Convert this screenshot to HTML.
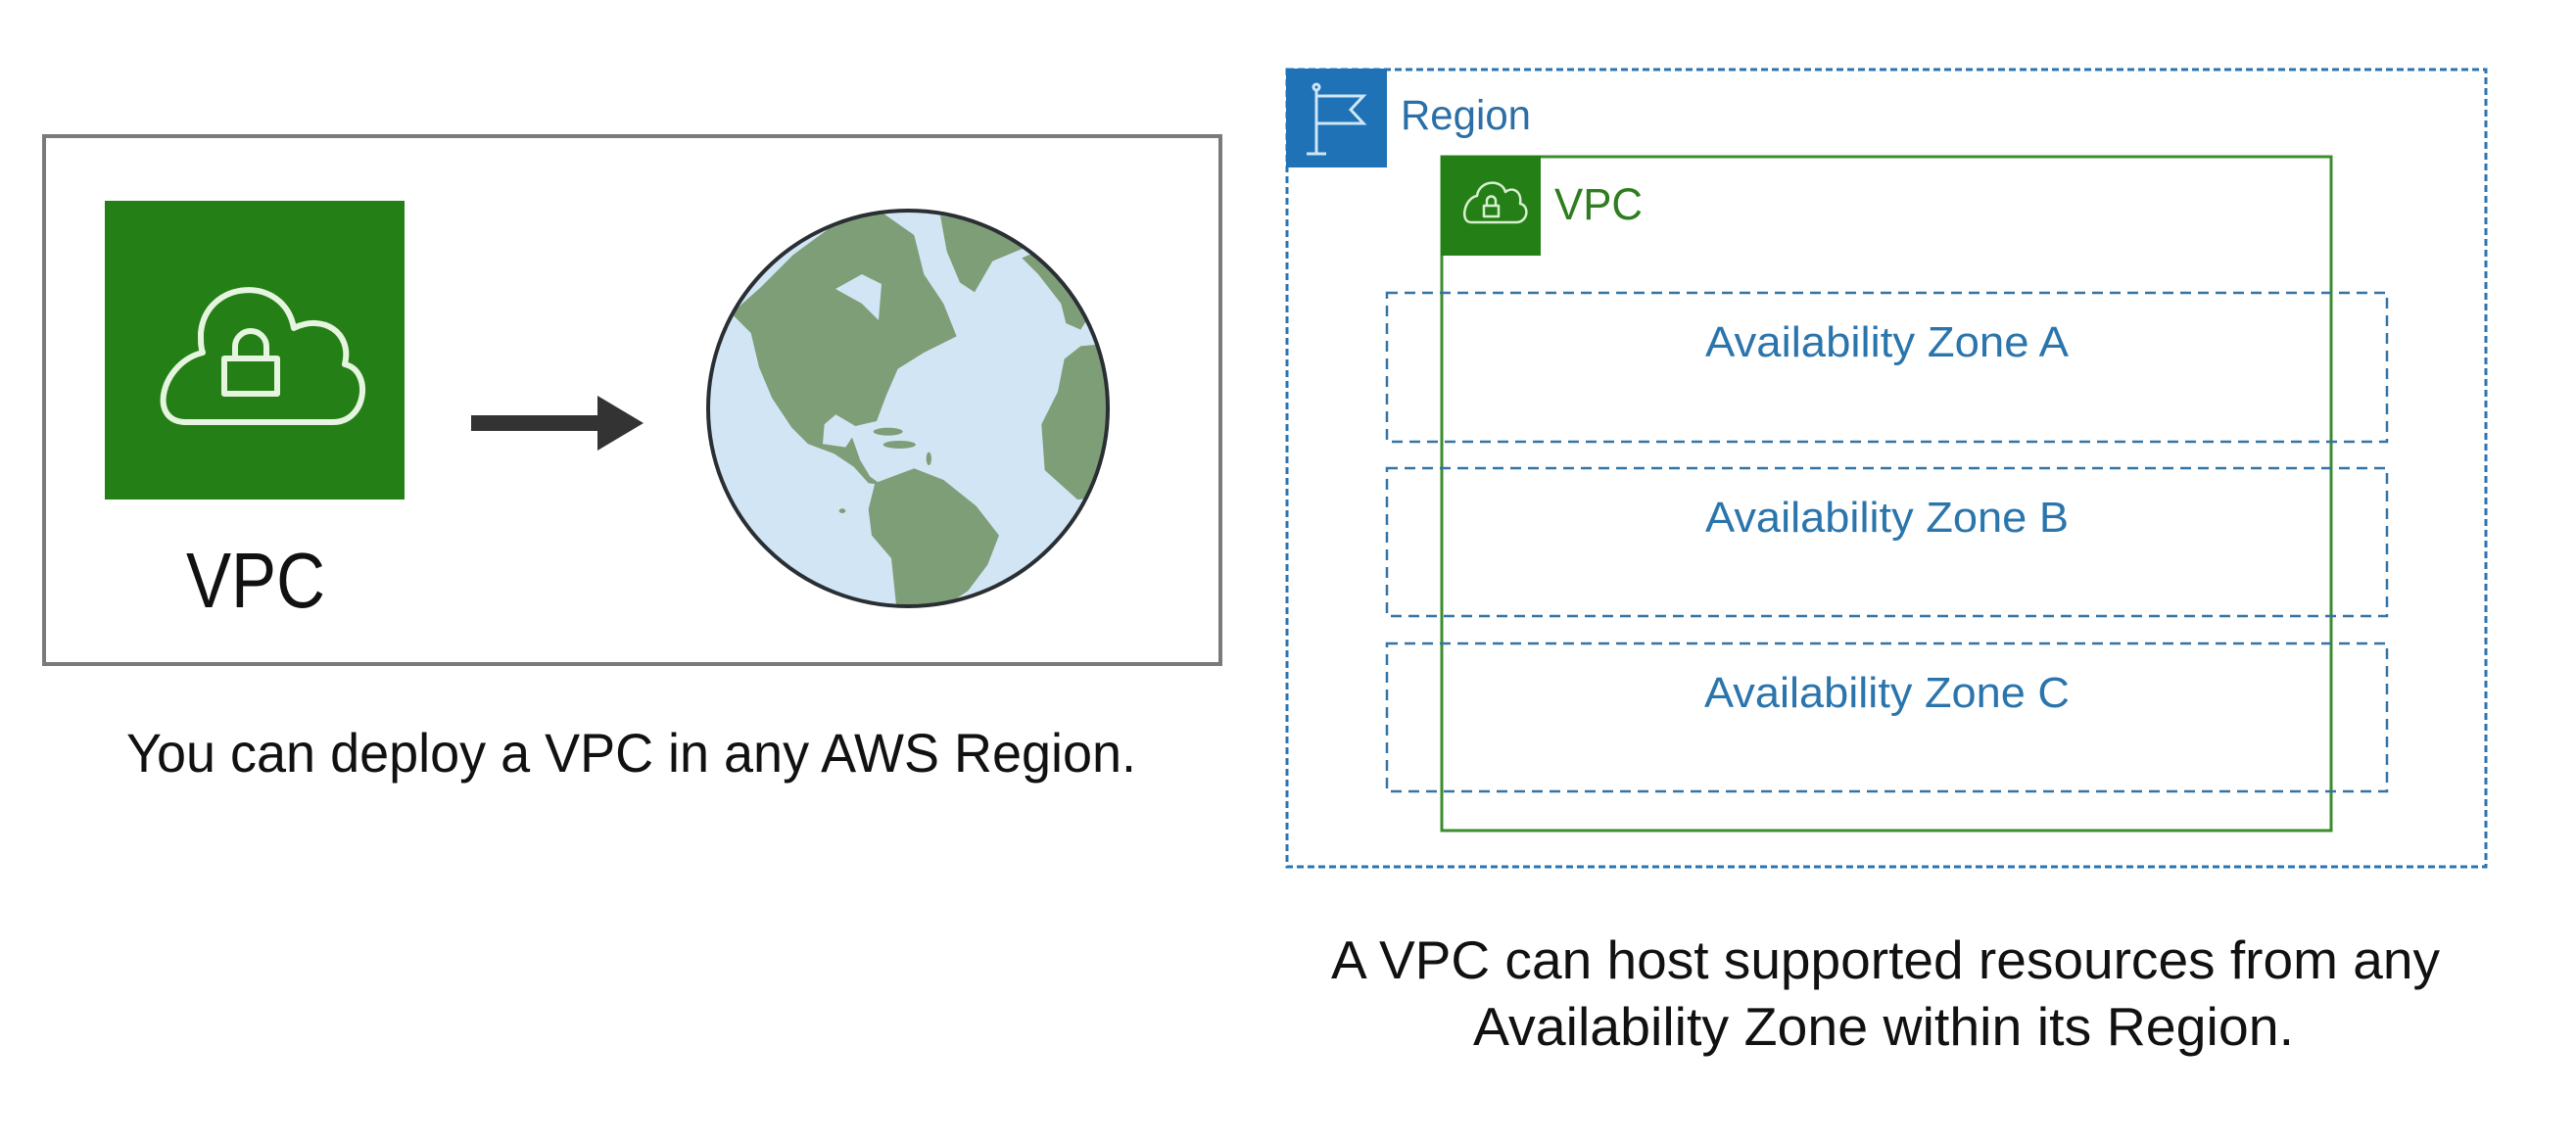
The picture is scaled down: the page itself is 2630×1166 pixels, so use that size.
<!DOCTYPE html>
<html><head><meta charset="utf-8"><style>html,body{margin:0;padding:0;background:#fff}svg{display:block}</style></head>
<body>
<svg width="2630" height="1166" viewBox="0 0 2630 1166" xmlns="http://www.w3.org/2000/svg" font-family="'Liberation Sans', sans-serif">
<rect width="2630" height="1166" fill="#fff"/>
<!-- Left panel -->
<rect x="45" y="139" width="1201" height="539" fill="#fff" stroke="#7a7a7a" stroke-width="4"/>
<rect x="107" y="205" width="306" height="305" fill="#248016"/>
<g fill="none" stroke="#e6f5e0" stroke-width="6" stroke-linejoin="round">
<path d="M190,431 L340,431 C375,431 380,378 352,372 C360,340 330,320 300,335 C290,280 210,285 205,340 C205,350 205,355 207,360 C165,370 150,431 190,431 Z"/>
<rect x="229" y="366" width="54" height="36"/>
<path d="M240,366 V354 a16,16 0 0 1 32,0 V366"/>
</g>
<text x="190" y="620" font-size="80" fill="#111" textLength="142" lengthAdjust="spacingAndGlyphs">VPC</text>
<rect x="481" y="424" width="130" height="16" fill="#333"/>
<polygon points="610,404 657,432 610,460" fill="#333"/>
<!-- Globe -->
<defs><clipPath id="g"><ellipse cx="927" cy="417" rx="204" ry="202"/></clipPath></defs>
<ellipse cx="927" cy="417" rx="204" ry="202" fill="#d2e5f4"/>
<g clip-path="url(#g)"><g transform="translate(700,200) scale(0.3333)" fill="#7e9e78">
<path d="M140,360 L230,280 330,180 480,70 600,50 700,120 730,240 790,330 830,430 730,480 650,530 615,610 585,690 520,705 460,670 425,700 420,760 490,770 510,740 535,810 565,860 600,885 560,880 515,830 455,790 375,760 325,710 265,620 225,525 200,420 Z"/>
<path d="M780,60 L960,90 1060,150 940,200 885,295 840,265 800,170 Z"/>
<path d="M580,880 L700,835 790,870 890,950 960,1040 925,1130 865,1210 790,1260 650,1300 630,1110 570,1040 560,960 Z"/>
<path d="M1160,500 L1210,460 1320,450 1340,920 1200,930 1100,840 1090,700 1140,600 Z"/>
<path d="M1030,190 L1100,160 1210,250 1260,330 1210,410 1165,390 1150,330 1080,240 Z"/>
<ellipse cx="620" cy="722" rx="45" ry="12"/><ellipse cx="655" cy="762" rx="50" ry="12"/><ellipse cx="745" cy="805" rx="8" ry="20"/><ellipse cx="480" cy="965" rx="10" ry="7"/>
</g>
<path d="M853,295 L880,280 900,290 897,327 880,310 Z" fill="#d2e5f4"/>
</g>
<ellipse cx="927" cy="417" rx="204" ry="202" fill="none" stroke="#2a2f33" stroke-width="4"/>
<text x="129" y="788" font-size="56" fill="#111" textLength="1031" lengthAdjust="spacingAndGlyphs">You can deploy a VPC in any AWS Region.</text>
<!-- Right panel -->
<rect x="1314" y="71" width="1224" height="814" fill="none" stroke="#2a74b4" stroke-width="3" stroke-dasharray="7,4"/>
<rect x="1313" y="70" width="103" height="101" fill="#1f72b5"/>
<g stroke="#cfe6f8" stroke-width="3" fill="none">
<line x1="1344" y1="92" x2="1344" y2="157"/><line x1="1334" y1="157" x2="1354" y2="157"/>
<circle cx="1344" cy="89" r="3"/>
<path d="M1344,98 H1392 L1379,112 L1392,126 H1344"/>
</g>
<text x="1430" y="132" font-size="43" fill="#2a6fa8" textLength="133" lengthAdjust="spacingAndGlyphs">Region</text>
<rect x="1472" y="160" width="908" height="688" fill="none" stroke="#3b8c2c" stroke-width="3"/>
<rect x="1471" y="159" width="102" height="102" fill="#248016"/>
<g fill="none" stroke="#d8f0d0" stroke-width="2.5" stroke-linejoin="round">
<path d="M1502,227 L1548,227 C1560,227 1562,210 1552,208 C1554,196 1545,190 1537,196 C1533,182 1510,184 1508,200 C1495,202 1490,227 1502,227 Z"/>
<rect x="1515" y="210" width="15" height="11"/>
<path d="M1518,210 V205 a4.5,4.5 0 0 1 9,0 V210"/>
</g>
<text x="1587" y="224" font-size="45" fill="#2e7d1e" textLength="90" lengthAdjust="spacingAndGlyphs">VPC</text>
<g fill="none" stroke="#3474a4" stroke-width="2.5" stroke-dasharray="11,7">
<rect x="1416" y="299" width="1021" height="152"/>
<rect x="1416" y="478" width="1021" height="151"/>
<rect x="1416" y="657" width="1021" height="151"/>
</g>
<g font-size="44" fill="#2b75ad">
<text x="1741" y="364" textLength="371" lengthAdjust="spacingAndGlyphs">Availability Zone A</text>
<text x="1741" y="543" textLength="371" lengthAdjust="spacingAndGlyphs">Availability Zone B</text>
<text x="1740" y="722" textLength="373" lengthAdjust="spacingAndGlyphs">Availability Zone C</text>
</g>
<text x="1359" y="999" font-size="55" fill="#111" textLength="1132" lengthAdjust="spacingAndGlyphs">A VPC can host supported resources from any</text>
<text x="1504" y="1067" font-size="55" fill="#111" textLength="838" lengthAdjust="spacingAndGlyphs">Availability Zone within its Region.</text>
</svg>
</body></html>
